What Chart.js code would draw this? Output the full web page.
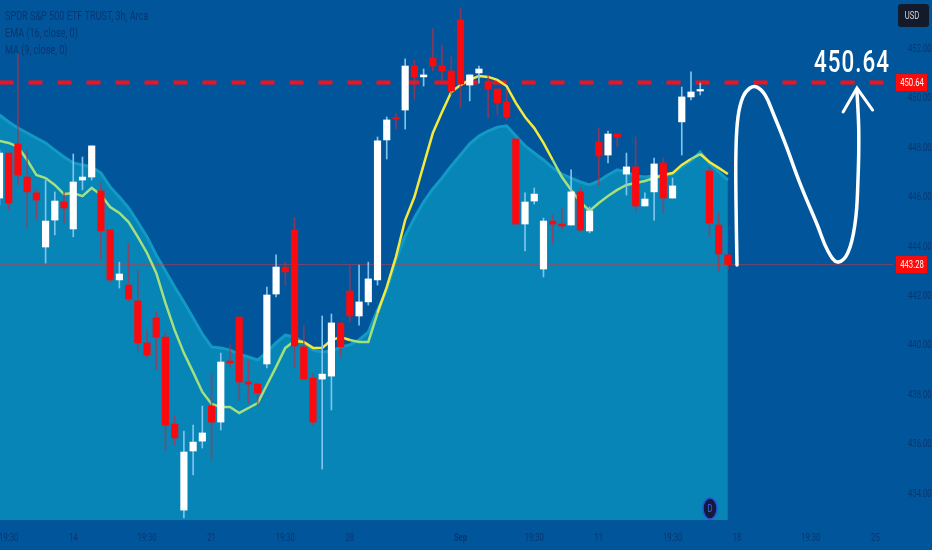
<!DOCTYPE html>
<html lang="en">
<head>
    <meta charset="UTF-8">
    <title>SPY 3h</title>
    <style>
        html, body { margin: 0; padding: 0; background: #01569b; overflow: hidden; }
        canvas { display: block; }
    </style>
</head>
<body>
    <canvas id="myChart" width="932" height="550"></canvas>

    <script src="https://cdn.jsdelivr.net/npm/chart.js"></script>
    <script>
        const opens = [445.97,447.79,448.16,446.82,446.18,443.99,445.08,445.81,444.72,446.70,446.82,446.26,444.68,442.66,442.45,441.81,440.11,441.12,440.35,436.83,
            433.35,435.74,436.14,437.56,436.91,439.38,441.16,438.53,438.45,439.26,442.09,443.18,444.68,439.95,438.69,438.65,438.77,440.92,442.21,441.20,
            441.77,442.66,448.32,449.21,449.53,451.31,450.87,451.64,451.31,451.11,453.17,450.54,451.03,450.70,450.38,449.86,448.36,444.92,445.85,443.10,
            445.04,444.92,444.88,446.22,444.64,448.24,447.71,448.56,446.94,447.23,445.65,446.22,447.39,445.97,449.05,450.06,450.30,447.07,444.88,443.67];
        const highs = [447.91,447.79,451.84,447.91,446.30,446.70,446.22,446.22,447.75,447.63,448.08,446.58,444.68,443.38,444.15,443.06,440.63,441.36,440.55,437.17,
            436.55,436.79,437.56,438.89,439.70,440.03,441.16,439.42,438.45,442.37,443.67,443.38,445.20,440.83,438.89,441.20,441.28,440.92,443.26,443.26,
            443.38,448.44,449.25,449.41,451.60,451.55,451.19,452.81,452.16,451.68,453.66,450.95,451.31,450.95,450.38,450.34,448.36,446.18,446.38,445.16,
            445.28,445.57,447.11,446.38,445.61,448.80,448.68,448.56,447.79,448.44,446.18,447.59,447.59,446.78,450.46,451.07,450.62,447.23,445.37,443.67];
        const lows = [445.69,445.49,446.50,444.76,445.08,443.34,444.48,444.96,444.40,446.30,446.70,443.47,442.57,442.33,441.81,439.78,439.50,439.02,435.78,435.98,
            433.03,434.77,435.86,435.37,436.59,439.14,437.80,437.68,437.60,439.10,441.97,442.45,439.14,438.65,436.79,435.01,437.40,439.54,440.96,440.83,
            441.64,442.45,447.55,448.76,448.76,449.97,450.50,451.11,450.75,450.14,449.65,449.90,450.62,449.21,449.33,449.13,444.92,443.83,445.73,442.78,
            444.15,444.68,444.88,444.60,444.56,446.50,447.39,448.04,446.09,445.41,445.65,445.08,445.37,445.97,447.71,449.94,450.14,444.40,443.02,443.06];
        const closes = [447.79,445.77,446.90,446.22,445.89,445.04,445.85,445.57,446.62,446.82,448.08,444.64,442.66,442.90,441.89,440.11,439.62,440.35,436.79,436.27,
            435.70,436.10,436.47,436.91,439.34,439.30,438.53,438.45,438.09,442.05,443.18,442.98,439.99,438.65,436.91,438.85,440.92,439.95,441.20,441.77,
            442.70,448.28,449.13,449.17,451.31,450.87,450.95,451.31,451.11,450.30,450.58,450.95,451.19,450.38,449.82,449.25,444.92,445.81,446.13,445.04,
            444.92,444.84,446.22,444.68,445.45,447.67,448.56,448.44,447.23,445.65,445.93,447.35,445.97,446.46,450.06,450.26,450.34,444.96,443.71,443.28];
        const emaBand = [449.33,449.05,448.80,448.60,448.40,448.20,447.91,447.63,447.39,447.31,447.23,446.98,446.42,446.01,445.57,445.00,444.40,443.67,443.02,442.37,
            441.77,441.12,440.47,439.95,439.91,439.82,439.66,439.54,439.42,439.74,440.11,440.43,440.35,440.11,439.82,439.74,439.78,439.95,440.03,440.23,
            440.55,441.44,442.25,443.47,444.44,445.16,445.81,446.34,446.78,447.27,447.71,448.16,448.48,448.68,448.84,448.89,448.48,448.08,447.79,447.51,
            447.19,446.94,446.78,446.62,446.50,446.66,446.90,447.11,447.03,446.86,446.82,446.86,446.86,446.94,447.23,447.47,447.83,447.37,447.03,446.70];
        const maLine = [448.28,448.20,448.04,447.51,446.90,446.78,446.50,446.13,446.17,446.05,446.38,446.10,445.61,445.37,445.00,444.40,443.75,442.94,441.72,440.63,
            439.70,438.93,438.13,437.64,437.52,437.52,437.28,437.48,437.68,438.41,439.14,439.91,440.19,440.15,439.91,439.91,440.23,440.35,440.23,440.15,
            440.15,441.32,442.37,443.59,445.08,446.01,447.31,448.60,449.45,450.26,450.54,450.75,450.91,450.87,450.75,450.50,449.82,449.25,448.80,448.20,
            447.51,446.82,446.30,445.81,445.45,445.77,446.05,446.30,446.50,446.58,446.66,446.78,446.90,446.98,447.31,447.55,447.75,447.43,447.19,446.94];

        const yTicks = [434, 436, 438, 440, 442, 444, 446, 448, 450, 452];
        const xTickBars = [1, 8, 16, 23, 31, 38, 50, 58, 65, 73, 80, 88, 95];
        const xTickLabels = ['19:30', '14', '19:30', '21', '19:30', '28', 'Sep', '19:30', '11', '19:30', '18', '19:30', '25'];

        const targetPrice = 450.64;
        const lastPrice = 443.28;
        const legendLines = ['SPDR S&P 500 ETF TRUST, 3h, Arca', 'EMA (16, close, 0)', 'MA (9, close, 0)'];

        // hand drawn path and arrow head on top of the chart
        const curveBars = [79.99,79.88,79.88,80.1,80.64,81.4,82.16,83.03,83.9,85.2,86.8,88.7,89.85,90.9,92.0,92.8,93.1,93.2,93.0];
        const curvePrices = [443.26,445.89,447.91,449.25,450.06,450.42,450.46,450.14,449.41,448.2,446.58,444.88,443.83,443.38,443.75,444.96,446.58,448.6,450.34];
        const arrowBars = [91.5, 93.0, 94.7];
        const arrowPrices = [449.45, 450.42, 449.53];

        const RED = '#fa0a0f';
        const GREEN_MA = '#a4e07c';
        const YELLOW_MA = '#f4e93c';
        const TEXT = '#0a3570';
        const FONT = 'Roboto, sans-serif';

        const barIds = opens.map((_, i) => i);
        const isUp = barIds.map(i => closes[i] >= opens[i]);

        // the reference is a horizontally squeezed screenshot, so squeeze the text the same way
        const squeezeText = {
            id: 'squeezeText',
            beforeInit(chart) {
                const ctx = chart.ctx;
                const fill = ctx.fillText.bind(ctx);
                ctx.fillText = (text, x, y) => {
                    ctx.save();
                    ctx.translate(x, y);
                    ctx.scale(0.7, 1);
                    fill(text, 0, 0);
                    ctx.restore();
                };
            }
        };

        const overlay = {
            id: 'overlay',
            afterDraw(chart) {
                const { ctx, scales: { y } } = chart;
                ctx.save();

                // legend
                ctx.font = '13px ' + FONT;
                ctx.fillStyle = TEXT;
                ctx.textAlign = 'left';
                ctx.textBaseline = 'middle';
                legendLines.forEach((line, i) => ctx.fillText(line, 5, 17 + i * 17));

                // big target label
                ctx.font = '500 32px ' + FONT;
                ctx.letterSpacing = '1.5px';
                ctx.fillStyle = '#ffffff';
                ctx.textAlign = 'center';
                ctx.fillText(targetPrice.toFixed(2), 852, 64);
                ctx.letterSpacing = '0px';

                // price tags on the axis
                ctx.font = '11px ' + FONT;
                [targetPrice, lastPrice].forEach(price => {
                    const py = y.getPixelForValue(price);
                    ctx.fillStyle = '#ff0a0a';
                    ctx.fillRect(896, py - 8.5, 31, 17);
                    ctx.fillStyle = '#ffffff';
                    ctx.fillText(price.toFixed(2), 912, py + 0.5);
                });

                // currency button
                ctx.fillStyle = '#131a2c';
                ctx.beginPath();
                ctx.roundRect(898, 4, 31, 23, 3);
                ctx.fill();
                ctx.fillStyle = '#d5d8de';
                ctx.fillText('USD', 912, 16);

                // dividend marker
                ctx.fillStyle = '#141a3c';
                ctx.strokeStyle = '#2c52d8';
                ctx.lineWidth = 1.5;
                ctx.beginPath();
                ctx.ellipse(710, 508.5, 7, 10.5, 0, 0, Math.PI * 2);
                ctx.fill();
                ctx.stroke();
                ctx.fillStyle = '#3f63e8';
                ctx.font = '11px ' + FONT;
                ctx.fillText('D', 710, 509);

                ctx.restore();
            }
        };

        const chart = new Chart(document.getElementById('myChart'), {
            data: {
                datasets: [
                    {
                        type: 'line',
                        order: 10,
                        data: barIds.map(i => ({ x: i, y: emaBand[i] })),
                        borderColor: '#129ac4',
                        borderWidth: 3,
                        backgroundColor: '#0685b6',
                        fill: 'start',
                        pointRadius: 0
                    },
                    {
                        type: 'line',
                        order: 9,
                        data: [{ x: 0, y: lastPrice }, { x: 97, y: lastPrice }],
                        borderColor: 'rgba(205, 60, 70, 0.55)',
                        borderWidth: 1,
                        pointRadius: 0
                    },
                    {
                        type: 'line',
                        order: 8,
                        data: [{ x: 0, y: targetPrice }, { x: 97, y: targetPrice }],
                        borderColor: '#f5101c',
                        borderWidth: 4,
                        borderDash: [14, 15],
                        pointRadius: 0
                    },
                    {
                        type: 'line',
                        order: 7,
                        data: barIds.map(i => ({ x: i, y: maLine[i] })),
                        borderWidth: 2.5,
                        pointRadius: 0,
                        segment: {
                            borderColor: c => maLine[c.p1DataIndex] > emaBand[c.p1DataIndex] ? YELLOW_MA : GREEN_MA
                        }
                    },
                    {
                        type: 'bar',
                        order: 6,
                        data: barIds.map(i => ({ x: i, y: [lows[i], highs[i]] })),
                        backgroundColor: barIds.map(i => isUp[i] ? '#7fc4ec' : 'rgba(185, 45, 70, 0.7)'),
                        barThickness: 1,
                        grouped: false
                    },
                    {
                        type: 'bar',
                        order: 5,
                        data: barIds.map(i => ({ x: i, y: [opens[i], closes[i]] })),
                        backgroundColor: barIds.map(i => isUp[i] ? '#ffffff' : RED),
                        barThickness: 6.5,
                        minBarLength: 1.5,
                        grouped: false
                    },
                    {
                        type: 'line',
                        order: 1,
                        data: curveBars.map((b, i) => ({ x: b, y: curvePrices[i] })),
                        borderColor: '#ffffff',
                        borderWidth: 3.5,
                        borderCapStyle: 'round',
                        tension: 0.4,
                        pointRadius: 0
                    },
                    {
                        type: 'line',
                        order: 1,
                        data: arrowBars.map((b, i) => ({ x: b, y: arrowPrices[i] })),
                        borderColor: '#ffffff',
                        borderWidth: 3,
                        borderCapStyle: 'round',
                        pointRadius: 0
                    }
                ]
            },
            options: {
                responsive: false,
                animation: false,
                layout: { padding: 0 },
                plugins: { legend: { display: false }, tooltip: { enabled: false } },
                scales: {
                    x: {
                        type: 'linear',
                        offset: false,
                        min: 0.054,
                        max: 96.91,
                        grid: { display: false },
                        border: { display: false },
                        afterFit: s => {
                            s.height = 30;
                            s.paddingLeft = 0;
                            s.paddingRight = 0;
                        },
                        afterBuildTicks: s => { s.ticks = xTickBars.map(v => ({ value: v })); },
                        ticks: {
                            autoSkip: false,
                            maxRotation: 0,
                            padding: 4,
                            color: TEXT,
                            font: c => ({
                                family: FONT,
                                size: 11,
                                weight: c.tick && c.tick.value === 50 ? 'bold' : 'normal'
                            }),
                            callback: v => xTickLabels[xTickBars.indexOf(v)]
                        }
                    },
                    y: {
                        position: 'right',
                        min: 432.95,
                        max: 453.98,
                        grid: { display: false },
                        border: { display: false },
                        afterFit: s => {
                            s.width = 39;
                            s.paddingTop = 0;
                            s.paddingBottom = 0;
                        },
                        afterBuildTicks: s => { s.ticks = yTicks.map(v => ({ value: v })); },
                        ticks: {
                            padding: 7,
                            color: TEXT,
                            font: { family: FONT, size: 11 },
                            callback: v => v.toFixed(2)
                        }
                    }
                }
            },
            plugins: [squeezeText, overlay]
        });
    </script>
</body>
</html>
